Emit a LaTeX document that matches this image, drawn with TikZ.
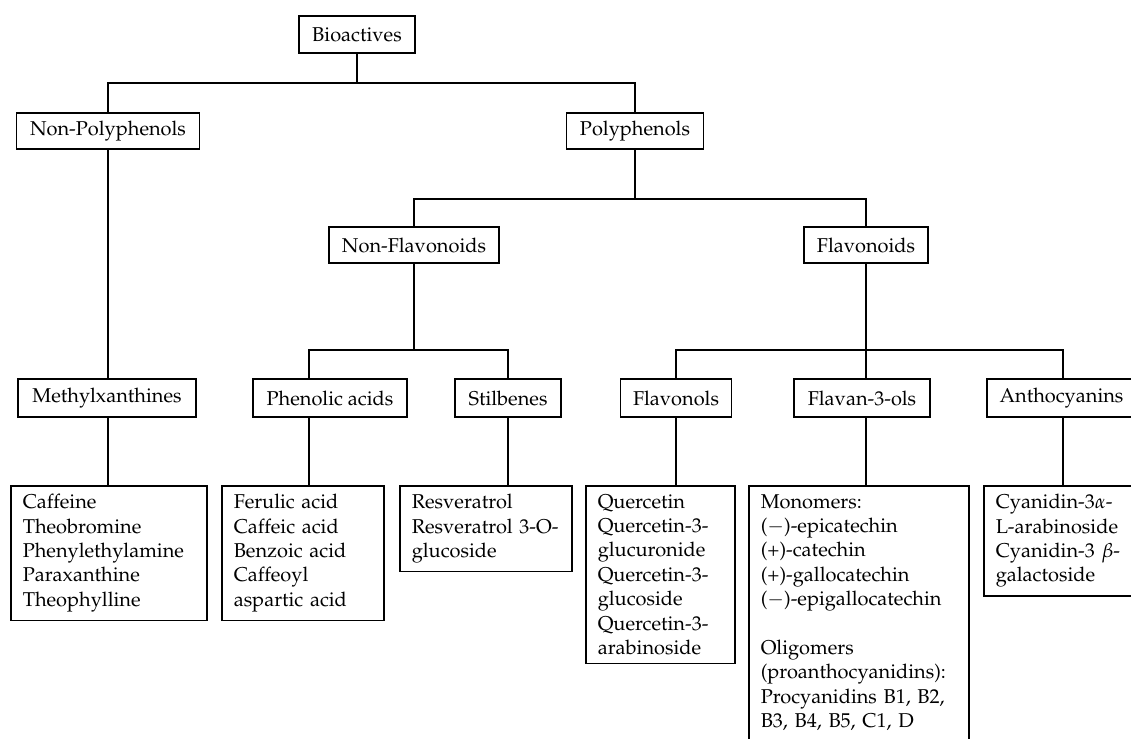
\documentclass[tikz,border=0pt]{standalone}
\usepackage[T1]{fontenc}
\usepackage{mathpazo}
\tikzset{
  lbl/.style={draw, line width=1.5pt, inner sep=0pt, minimum height=36pt, font=\fontsize{20}{24.4}\selectfont},
  content/.style={draw, line width=1.5pt, anchor=north west, inner xsep=12pt, inner ysep=8.5pt, align=left, font=\fontsize{20}{24.4}\selectfont},
  conn/.style={line width=1.5pt}
}
\begin{document}
\begin{tikzpicture}[x=1pt,y=-1pt]
\clip (0,0) rectangle (1131,738);
\fill[white] (0,0) rectangle (1131,738);
% level 1-3
\node[lbl, minimum width=116pt, minimum height=37pt] (bio) at (357,34.5) {Bioactives};
\node[lbl, minimum width=183pt] (nonpoly) at (108,131) {Non-Polyphenols};
\node[lbl, minimum width=137pt] (poly) at (635,131) {Polyphenols};
\node[lbl, minimum width=170pt] (nonflav) at (414,245) {Non-Flavonoids};
\node[lbl, minimum width=124pt] (flav) at (866,245) {Flavonoids};
% level 4
\node[lbl, minimum width=178pt, minimum height=38pt] (methyl) at (107,398) {Methylxanthines};
\node[lbl, minimum width=154pt, minimum height=38pt] (phen) at (330,398) {Phenolic acids};
\node[lbl, minimum width=106pt, minimum height=38pt] (stil) at (508,398) {Stilbenes};
\node[lbl, minimum width=111pt, minimum height=38pt] (flavonols) at (676,398) {Flavonols};
\node[lbl, minimum width=136pt, minimum height=38pt] (flavan) at (862,398) {Flavan-3-ols};
\node[lbl, minimum width=149pt, minimum height=38pt] (antho) at (1061.5,398) {Anthocyanins};
% content boxes
\node[content, text width=172pt] (caff) at (10,485) {Caffeine\\Theobromine\\Phenylethylamine\\Paraxanthine\\Theophylline};
\node[content, text width=138pt] (feru) at (221,485) {Ferulic acid\\Caffeic acid\\Benzoic acid\\Caffeoyl\\aspartic acid};
\node[content, text width=148pt] (resv) at (399,485) {Resveratrol\\Resveratrol 3-O-\\glucoside};
\node[content, text width=125pt] (quer) at (585,485) {Quercetin\\Quercetin-3-\\glucuronide\\Quercetin-3-\\glucoside\\Quercetin-3-\\arabinoside};
\node[content, text width=196pt] (mono) at (748,485) {Monomers:\\($-$)-epicatechin\\(+)-catechin\\(+)-gallocatechin\\($-$)-epigallocatechin\\[24.4pt]Oligomers\\(proanthocyanidins):\\Procyanidins B1, B2,\\B3, B4, B5, C1, D};
\node[content, text width=136pt] (cyan) at (983,485) {Cyanidin-3$\alpha$-\\L-arabinoside\\Cyanidin-3 $\beta$-\\galactoside};
% junctions
\coordinate (b1) at (357,83);
\coordinate (b2) at (635,199);
\coordinate (b3) at (414,350);
\coordinate (b4) at (866,350);
\coordinate (p1) at (309,350);
\coordinate (a1) at (1063,350);
% connectors
\draw[conn] (bio) -- (b1);
\draw[conn] (nonpoly.north) |- (b1) -| (poly.north);
\draw[conn] (poly) -- (b2);
\draw[conn] (nonflav.north) |- (b2) -| (flav.north);
\draw[conn] (nonflav) -- (b3);
\draw[conn] (phen.north -| p1) -- (p1) -- (b3) -| (stil.north);
\draw[conn] (flav) -- (b4);
\draw[conn] (flavonols.north) |- (b4) -- (a1) -- (antho.north -| a1);
\draw[conn] (b4) -- (flavan.north -| b4);
\draw[conn] (nonpoly.south) -- (nonpoly.south |- methyl.north);
\draw[conn] (methyl.south -| nonpoly.south) -- (nonpoly.south |- caff.north);
\draw[conn] (phen.south -| p1) -- (p1 |- feru.north);
\draw[conn] (stil.south) -- (stil.south |- resv.north);
\draw[conn] (flavonols.south) -- (flavonols.south |- quer.north);
\draw[conn] (flavan.south -| b4) -- (b4 |- mono.north);
\draw[conn] (antho.south -| a1) -- (a1 |- cyan.north);
\end{tikzpicture}
\end{document}
